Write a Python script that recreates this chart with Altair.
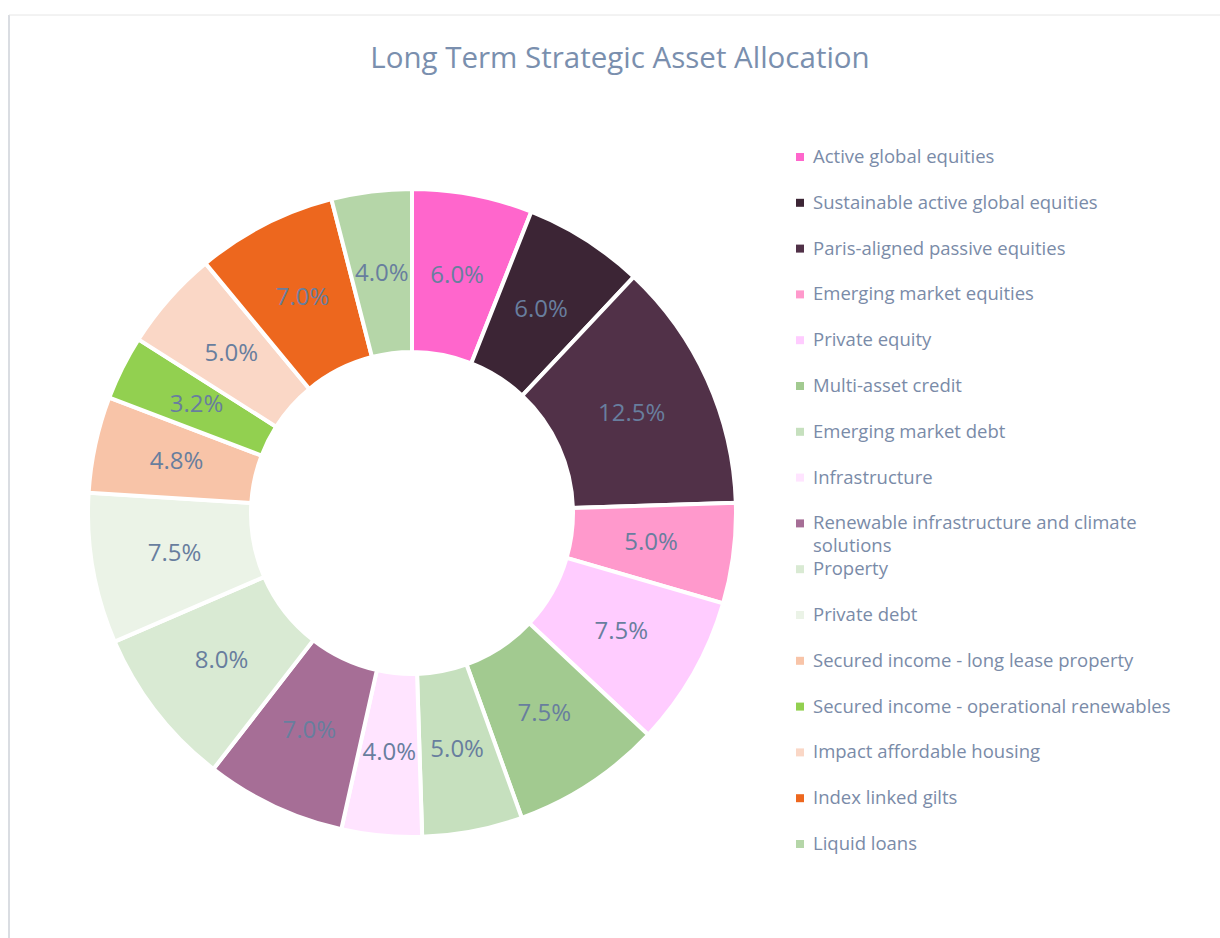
import altair as alt
import pandas as pd

categories = [
    "Active global equities",
    "Sustainable active global equities",
    "Paris-aligned passive equities",
    "Emerging market equities",
    "Private equity",
    "Multi-asset credit",
    "Emerging market debt",
    "Infrastructure",
    "Renewable infrastructure and climate solutions",
    "Property",
    "Private debt",
    "Secured income - long lease property",
    "Secured income - operational renewables",
    "Impact affordable housing",
    "Index linked gilts",
    "Liquid loans",
]
values = [6.0, 6.0, 12.5, 5.0, 7.5, 7.5, 5.0, 4.0, 7.0, 8.0, 7.5, 4.8, 3.2, 5.0, 7.0, 4.0]
colors = [
    "#FF66CC", "#3C2535", "#513148", "#FF99CC", "#FFCCFF", "#A2CA90",
    "#C6E0BE", "#FFE4FF", "#A66E96", "#D9EAD3", "#EBF3E7", "#F8C4A8",
    "#92D050", "#FAD7C6", "#ED671E", "#B5D6A8",
]
# legend text as wrapped in the original (one entry wraps onto two lines)
legend_text = [
    c if c != "Renewable infrastructure and climate solutions"
    else "Renewable infrastructure and climate\nsolutions"
    for c in categories
]
labels = [f"{v:.1f}%" for v in values]

df = pd.DataFrame({
    "category": categories,
    "value": values,
    "order": list(range(len(categories))),
    "label": labels,
    "legend_text": legend_text,
})

FONT = "Open Sans"
TEXT_COLOR = "#687E9E"
LEGEND_COLOR = "#7A8BA8"

color_enc = alt.Color(
    "category:N",
    sort=categories,
    scale=alt.Scale(domain=categories, range=colors),
    legend=None,
)

base = alt.Chart(df).encode(
    theta=alt.Theta("value:Q", stack=True),
    order=alt.Order("order:Q"),
)

arcs = base.mark_arc(innerRadius=161, outerRadius=324, stroke="white", strokeWidth=4).encode(
    x=alt.value(412),
    y=alt.value(513),
    color=color_enc,
)

text = base.mark_text(radius=241, fontSize=24, font=FONT, color=TEXT_COLOR).encode(
    x=alt.value(412),
    y=alt.value(513),
    text="label:N",
)

# legend drawn as its own layer (uniform row spacing, wrapped entry overflows)
legend_y = alt.Y(
    "order:O",
    axis=None,
    scale=alt.Scale(type="point", range=[157, 844], padding=0),
)
legend_symbols = alt.Chart(df).mark_square(size=64, opacity=1).encode(
    x=alt.value(800),
    y=legend_y,
    color=color_enc,
)
legend_labels = alt.Chart(df).mark_text(
    align="left", baseline="middle", font=FONT, fontSize=18.5,
    color=LEGEND_COLOR, lineBreak="\n", lineHeight=23,
).encode(
    x=alt.value(813),
    y=legend_y,
    text="legend_text:N",
)

frame = pd.DataFrame({"k": [0]})
left_rule = alt.Chart(frame).mark_rule(color="#DADDE2", strokeWidth=2).encode(
    x=alt.value(9), y=alt.value(15), y2=alt.value(938)
)
top_rule = alt.Chart(frame).mark_rule(color="#E6E6E6", strokeWidth=1).encode(
    x=alt.value(9), x2=alt.value(1220), y=alt.value(15)
)

chart = alt.layer(left_rule, top_rule, arcs, text, legend_symbols, legend_labels).properties(
    width=1220,
    height=938,
    padding=0,
    autosize=alt.AutoSizeParams(type="none"),
    title=alt.TitleParams(
        "Long Term Strategic Asset Allocation",
        font=FONT,
        fontSize=29.5,
        fontWeight="normal",
        color="#7A8FAE",
        anchor="middle",
        dx=10,
        dy=78,
    ),
).configure_view(stroke=None)

chart.save("out.html", embed_options={"renderer": "svg", "actions": False})
